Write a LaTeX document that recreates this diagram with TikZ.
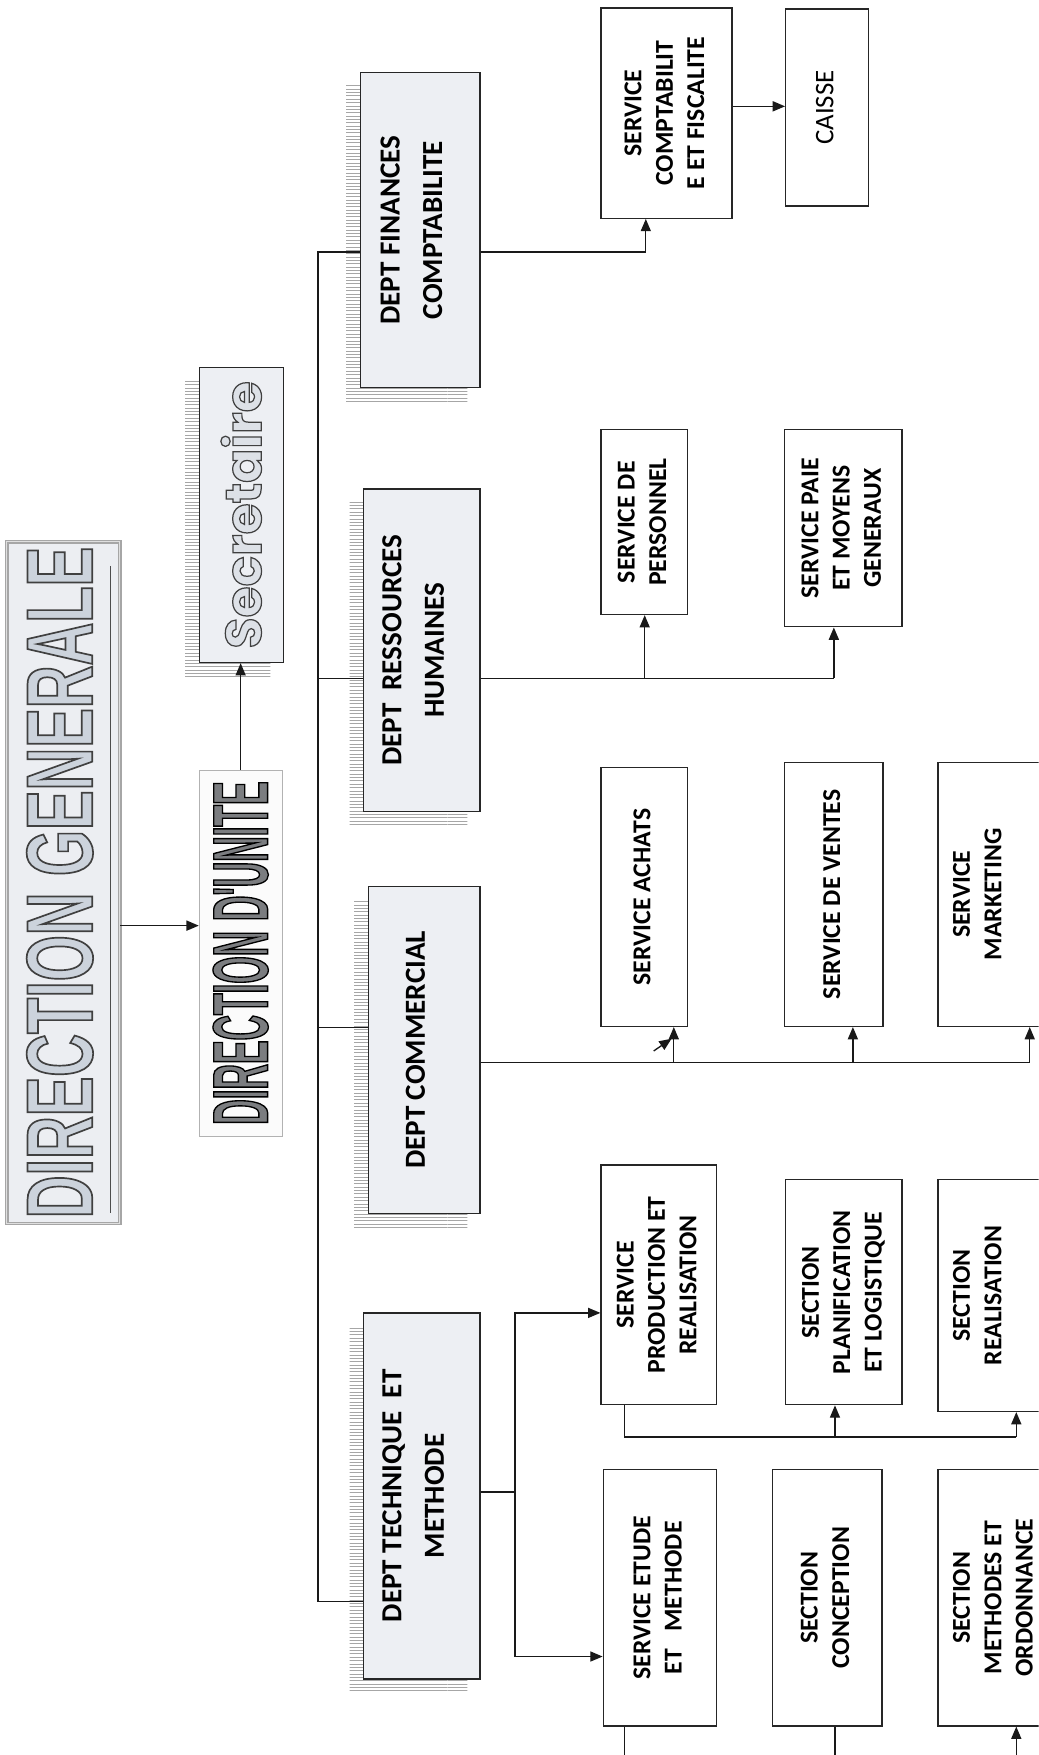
\documentclass[tikz,border=0pt]{standalone}
\usepackage{fontspec}
\usepackage{graphicx}
\usetikzlibrary{arrows.meta,patterns}
\setmainfont{Carlito}
\newfontfamily\dgfont[FakeStretch=0.63]{Liberation Sans}
\newfontfamily\dufont[FakeStretch=0.45]{Liberation Sans}
\newfontfamily\secfont{Poppins}
\definecolor{boxfill}{HTML}{EDEFF3}
\definecolor{dgfill}{HTML}{ECEEF2}
\definecolor{dgtext}{HTML}{CCD3DC}
\definecolor{dutext}{HTML}{7B7D80}
\definecolor{sectext}{HTML}{DDE1E7}
\newcommand\rt[1]{\rotatebox{90}{\begin{tabular}{@{}c@{}}#1\end{tabular}}}
\newcommand\rtl[1]{\rt{#1}\hspace*{14pt}}
\newcommand\olt[3]{\special{pdf:literal direct 2 Tr #1 w #2 RG}#3\special{pdf:literal direct 0 Tr}}
\pgfdeclarelayer{bg}
\pgfsetlayers{bg,main}
\begin{document}
\begin{tikzpicture}[x=1pt,y=-1pt,
  conn/.style={line width=1.2pt, draw=black!90},
  arr/.style={conn, -{Triangle[length=11pt,width=9pt]}},
  svc/.style={draw=black!85, line width=1.2pt, fill=white, inner sep=0pt, font=\fontsize{23}{28}\selectfont\bfseries},
  dept/.style={draw=black!85, line width=1.3pt, fill=boxfill, inner sep=0pt, font=\fontsize{26}{38}\selectfont\bfseries},
  lbl/.style={inner sep=0pt, font=\fontsize{23}{28}\selectfont\bfseries},
  hatch/.style={pattern=horizontal lines, pattern color=gray!70}]
\useasboundingbox (0,0) rectangle (928,1568);
\clip (0,0) rectangle (928,1568);

% top level
\node[draw=gray!70, line width=1pt, double=gray!25, double distance=1.2pt, fill=dgfill, minimum width=101pt, minimum height=609pt, inner sep=0pt] (dg) at (56.5,788.5)
  {\rotatebox{90}{\dgfont\bfseries\fontsize{84}{84}\selectfont\color{dgtext}\olt{1.5}{0.25 0.25 0.25}{DIRECTION GENERALE}}\hspace*{6pt}};
\draw[black!70, line width=0.8pt] ([xshift=-9pt,yshift=-22pt]dg.north east) -- ([xshift=-9pt,yshift=10pt]dg.south east);
\node[draw=gray!60, line width=0.8pt, fill=white!97!gray, minimum width=74pt, minimum height=327pt, inner sep=0pt] (du) at (215,851.5)
  {\rotatebox{90}{\dufont\bfseries\fontsize{70}{70}\selectfont\color{dutext}\olt{1.2}{0 0 0}{DIRECTION D'UNITE}}};
\node[draw=black!85, line width=1pt, fill=boxfill, minimum width=75pt, minimum height=264pt, inner sep=0pt] (sec) at (215.5,460)
  {\rotatebox{90}{\secfont\bfseries\fontsize{45}{45}\selectfont\color{sectext}\olt{1.1}{0.25 0.25 0.25}{Secretaire}}};

% departments
\node[dept, minimum width=107pt, minimum height=281pt] (fin) at (375.5,205.5) {\rtl{DEPT FINANCES\\COMPTABILITE}};
\node[dept, minimum width=104pt, minimum height=288pt] (rh) at (377,581) {\rtl{DEPT\ \ RESSOURCES\\HUMAINES}};
\node[dept, minimum width=100pt, minimum height=292pt] (com) at (379,938) {\rtl{DEPT COMMERCIAL}};
\node[dept, minimum width=104pt, minimum height=327pt] (tech) at (377,1336.5) {\rtl{DEPT TECHNIQUE\ \ ET\\METHODE}};

% services
\node[svc, minimum width=117pt, minimum height=188pt] (sc) at (595.5,101) {\rt{SERVICE\\COMPTABILIT\\E ET FISCALITE}};
\node[svc, minimum width=74pt, minimum height=176pt, font=\fontsize{24}{28}\selectfont\mdseries] (caisse) at (739,96) {\rt{CAISSE}};
\node[svc, minimum width=77pt, minimum height=165pt] (pers) at (575.5,466.5) {\rt{SERVICE DE\\PERSONNEL}};
\node[svc, minimum width=105pt, minimum height=176pt] (paie) at (753.5,472) {\rt{SERVICE PAIE\\ET MOYENS\\GENERAUX}};
\node[svc, minimum width=77pt, minimum height=231pt] (ach) at (575.5,801.5) {\rt{SERVICE ACHATS}};
\node[svc, minimum width=88pt, minimum height=236pt] (ven) at (745,799) {\rt{SERVICE DE VENTES}};
\node[svc, minimum width=162pt, minimum height=236pt] (mkt) at (919,799) {};
\node[lbl] (mktt) at (875,799) {\rt{SERVICE\\MARKETING}};
\node[svc, minimum width=103pt, minimum height=214pt] (prod) at (588.5,1148) {\rt{SERVICE\\PRODUCTION ET\\REALISATION}};
\node[svc, minimum width=104pt, minimum height=201pt] (plan) at (754,1154.5) {\rt{SECTION\\PLANIFICATION\\ET LOGISTIQUE}};
\node[svc, minimum width=162pt, minimum height=207pt] (real) at (919,1157.5) {};
\node[lbl] (realt) at (875,1157.5) {\rt{SECTION\\REALISATION}};
\node[svc, minimum width=101pt, minimum height=229pt] (etu) at (589.5,1427.5) {\rt{SERVICE ETUDE\\ET\ \ \ METHODE}};
\node[svc, minimum width=98pt, minimum height=229pt] (conc) at (739,1427.5) {\rt{SECTION\\CONCEPTION}};
\node[svc, minimum width=162pt, minimum height=229pt] (meth) at (919,1427.5) {};
\node[lbl] (metht) at (889,1427.5) {\rt{SECTION\\METHODES ET\\ORDONNANCE}};

% background and shadows
\begin{pgfonlayer}{bg}
\fill[white] (0,0) rectangle (928,1568);
\foreach \n in {fin,rh,com,tech,sec}
  \fill[hatch] ([shift={(-12,12)}]\n.north west) rectangle ([shift={(-12,12)}]\n.south east);
\end{pgfonlayer}

% helper coordinates
\coordinate (r827) at (0,827);
\coordinate (bTop) at (284,225);
\coordinate (bRH) at (284,606);
\coordinate (bCom) at (284,918);
\coordinate (bBot) at (284,1431);
\coordinate (fA) at (577,225);
\coordinate (r95) at (0,95);
\coordinate (hA) at (576,606);
\coordinate (hB) at (745,606);
\coordinate (cA) at (602,949);
\coordinate (cB) at (762,949);
\coordinate (cC) at (920,949);
\coordinate (xa1) at (584,939);
\coordinate (xa2) at (600,928);
\coordinate (tA) at (460,1333);
\coordinate (r1173) at (0,1173);
\coordinate (r1480) at (0,1480);
\coordinate (pA) at (558,1284);
\coordinate (pB) at (746,1284);
\coordinate (pC) at (908,1284);
\coordinate (eA) at (558,1568);
\coordinate (kA) at (746,1568);
\coordinate (mA) at (908,1568);

% connectors
\draw[arr] (dg.east |- r827) -- (du.west |- r827);
\draw[arr] (du.north) -- (du.north |- sec.south);
\draw[conn] (fin.west |- bTop) -- (bTop) -- (bBot) -- (tech.west |- bBot);
\draw[conn] (bRH) -- (rh.west |- bRH);
\draw[conn] (bCom) -- (com.west |- bCom);
\draw[arr] (fin.east |- fA) -- (fA) -- (fA |- sc.south);
\draw[arr] (sc.east |- r95) -- (caisse.west |- r95);
\draw[conn] (rh.east |- hA) -- (hB);
\draw[arr] (hA) -- (hA |- pers.south);
\draw[arr] (hB) -- (hB |- paie.south);
\draw[conn] (com.east |- cA) -- (cC);
\draw[arr] (cA) -- (cA |- ach.south);
\draw[arr] (cB) -- (cB |- ven.south);
\draw[arr] (cC) -- (cC |- mkt.south);
\draw[arr] (xa1) -- (xa2);
\draw[conn] (tech.east |- tA) -- (tA);
\draw[arr] (tA) |- (prod.west |- r1173);
\draw[arr] (tA) |- (etu.west |- r1480);
\draw[conn] (pA |- prod.south) -- (pA) -- (pC);
\draw[arr] (pB) -- (pB |- plan.south);
\draw[arr] (pC) -- (pC |- real.south);
\draw[conn] (eA |- etu.south) -- (eA);
\draw[conn] (kA |- conc.south) -- (kA);
\draw[arr] (mA) -- (mA |- meth.south);
\end{tikzpicture}
\end{document}
